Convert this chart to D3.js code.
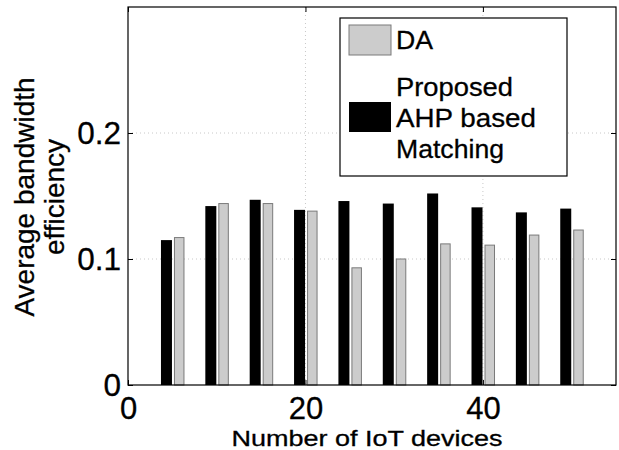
<!DOCTYPE html>
<html>
<head>
<meta charset="utf-8">
<script src="https://cdn.jsdelivr.net/npm/d3@7"></script>
<style>
  body { margin: 0; background: #fff; }
  text { font-family: "Liberation Sans", Arial, sans-serif; fill: #000; stroke: #000; stroke-width: 0.3px; }
</style>
</head>
<body>
<div class="graph"></div>
<script>
// number of IoT devices on x
const devices = [5, 10, 15, 20, 25, 30, 35, 40, 45, 50]
// Proposed AHP based Matching (black)
const proposed = [0.115, 0.142, 0.147, 0.139, 0.146, 0.144, 0.152, 0.141, 0.137, 0.140]
// DA (grey)
const da = [0.117, 0.144, 0.144, 0.138, 0.093, 0.100, 0.112, 0.111, 0.119, 0.123]
const xTicks = [0, 20, 40]
const yTicks = [0, 0.1, 0.2]
const legendLabels = ["DA", "Proposed AHP based Matching"]

let margin = { top: 7, right: 3, bottom: 65, left: 128 }
let W = 619, H = 450
let w = W - margin.left - margin.right
let h = H - margin.top - margin.bottom

let svg = d3.select(".graph").append("svg")
    .attr("width", W)
    .attr("height", H)

let g = svg.append("g")
    .attr("transform", "translate(" + margin.left + "," + margin.top + ")")

let x = d3.scaleLinear().domain([0, 55]).range([0, w])
let y = d3.scaleLinear().domain([0, 0.3]).range([h, 0])

// dotted grid
g.selectAll(".gx").data(xTicks.filter(d => d > 0)).enter().append("line")
    .attr("x1", d => x(d)).attr("x2", d => x(d))
    .attr("y1", 0).attr("y2", h)
    .attr("stroke", "#c8c8c8").attr("stroke-dasharray", "1,3")
g.selectAll(".gy").data(yTicks.filter(d => d > 0)).enter().append("line")
    .attr("y1", d => y(d)).attr("y2", d => y(d))
    .attr("x1", 0).attr("x2", w)
    .attr("stroke", "#c8c8c8").attr("stroke-dasharray", "1,3")

// bars
let rows = devices.map((d, i) => ({ n: d, p: proposed[i], a: da[i] }))

g.selectAll(".bp").data(rows).enter().append("rect")
    .attr("x", d => x(d.n) - 11.4)
    .attr("width", 11)
    .attr("y", d => y(d.p))
    .attr("height", d => h - y(d.p))
    .attr("fill", "#000")

g.selectAll(".ba").data(rows).enter().append("rect")
    .attr("x", d => x(d.n) + 2.1)
    .attr("width", 9.5)
    .attr("y", d => y(d.a))
    .attr("height", d => h - y(d.a))
    .attr("fill", "#cccccc")
    .attr("stroke", "#7a7a7a")
    .attr("stroke-width", 1)

// axes with inward ticks
let xAxis = g.append("g")
    .attr("transform", `translate(0,${h})`)
    .call(d3.axisBottom(x).tickValues(xTicks).tickSizeInner(-5).tickSizeOuter(0).tickPadding(12))
let xTop = g.append("g")
    .call(d3.axisTop(x).tickValues(xTicks).tickSizeInner(-5).tickSizeOuter(0).tickFormat(""))
let yAxis = g.append("g")
    .call(d3.axisLeft(y).tickValues(yTicks).tickSizeInner(-5).tickSizeOuter(0).tickPadding(7)
        .tickFormat(d => d === 0 ? "0" : d3.format(".1f")(d)))
let yRight = g.append("g")
    .attr("transform", `translate(${w},0)`)
    .call(d3.axisRight(y).tickValues(yTicks).tickSizeInner(-5).tickSizeOuter(0).tickFormat(""))

;[xAxis, xTop, yAxis, yRight].forEach(a => {
    a.select(".domain").remove()
    a.selectAll("line").attr("stroke", "#000")
    a.selectAll("text").style("font-size", "31.5px").attr("font-family", null).attr("fill", "#000")
})
xAxis.selectAll("text").style("font-size", "31px").attr("dy", "0.71em")

// frame
g.append("rect")
    .attr("width", w).attr("height", h)
    .attr("fill", "none").attr("stroke", "#000").attr("stroke-width", 1.2)

// axis titles
svg.append("text")
    .attr("x", margin.left + w / 2 - 5)
    .attr("y", 445.5)
    .attr("text-anchor", "middle")
    .attr("textLength", 271).attr("lengthAdjust", "spacingAndGlyphs")
    .style("font-size", "21.5px")
    .text("Number of IoT devices")

let yl = svg.append("text")
    .attr("transform", "translate(34,197) rotate(-90)")
    .attr("text-anchor", "middle")
    .style("font-size", "28px")
yl.append("tspan").attr("x", 0).attr("dy", 0).text("Average bandwidth")
yl.append("tspan").attr("x", 0).attr("dy", 30).text("efficiency")

// legend
let lg = svg.append("g")
lg.append("rect")
    .attr("x", 340).attr("y", 18).attr("width", 227).attr("height", 158)
    .attr("fill", "#fff").attr("stroke", "#000").attr("stroke-width", 1.2)
lg.append("rect")
    .attr("x", 349).attr("y", 25).attr("width", 42).attr("height", 30)
    .attr("fill", "#cccccc").attr("stroke", "#7a7a7a")
lg.append("rect")
    .attr("x", 349).attr("y", 102).attr("width", 42).attr("height", 30)
    .attr("fill", "#000")
lg.append("text").attr("x", 396).attr("y", 49)
    .attr("textLength", 37).attr("lengthAdjust", "spacingAndGlyphs")
    .style("font-size", "26px").text(legendLabels[0])
let words = ["Proposed", "AHP based", "Matching"]
let lens = [117, 140, 108]
words.forEach((t, i) => {
    lg.append("text").attr("x", 396).attr("y", 96 + i * 31)
        .attr("textLength", lens[i]).attr("lengthAdjust", "spacingAndGlyphs")
        .style("font-size", "26px").text(t)
})
</script>
</body>
</html>
